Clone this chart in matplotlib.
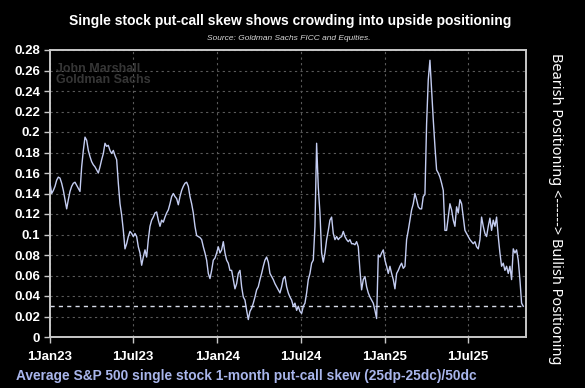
import numpy as np
import pandas as pd
import matplotlib
matplotlib.use("Agg")
from matplotlib import pyplot as plt

# Average S&P 500 single stock 1-month put-call skew
# (roughly every 3-4 days, Jan 2023 -> end Oct 2025)
skew_2023_24 = [
    0.150, 0.140, 0.143, 0.147, 0.153, 0.156, 0.155, 0.150, 0.143, 0.134,
    0.125, 0.134, 0.142, 0.147, 0.150, 0.151, 0.148, 0.145, 0.142, 0.166,
    0.182, 0.195, 0.192, 0.182, 0.176, 0.171, 0.168, 0.166, 0.163, 0.160,
    0.166, 0.173, 0.179, 0.189, 0.186, 0.187, 0.182, 0.179, 0.182, 0.177,
    0.173, 0.150, 0.130, 0.119, 0.104, 0.086, 0.091, 0.098, 0.103, 0.101,
    0.098, 0.101, 0.098, 0.088, 0.082, 0.070, 0.078, 0.085, 0.078, 0.095,
    0.108, 0.114, 0.117, 0.121, 0.122, 0.114, 0.108, 0.114, 0.112, 0.117,
    0.121, 0.124, 0.130, 0.137, 0.140, 0.137, 0.135, 0.129, 0.137, 0.143,
    0.147, 0.150, 0.151, 0.147, 0.137, 0.130, 0.121, 0.108, 0.099, 0.098,
    0.097, 0.095, 0.088, 0.082, 0.075, 0.062, 0.057, 0.065, 0.075, 0.077,
    0.082, 0.088, 0.082, 0.085, 0.093, 0.082, 0.075, 0.072, 0.065, 0.065,
    0.056, 0.047, 0.052, 0.062, 0.065, 0.049, 0.039, 0.036, 0.026, 0.017,
    0.025, 0.028, 0.033, 0.039, 0.046, 0.049, 0.056, 0.062, 0.069, 0.075,
    0.078, 0.073, 0.062, 0.059, 0.056, 0.052, 0.049, 0.046,
]
skew_2024_25 = [
    0.043, 0.049, 0.057, 0.059, 0.049, 0.043, 0.039, 0.036, 0.030, 0.033,
    0.026, 0.030, 0.025, 0.023, 0.030, 0.033, 0.043, 0.056, 0.062, 0.072,
    0.075, 0.108, 0.189, 0.146, 0.121, 0.082, 0.073, 0.082, 0.095, 0.104,
    0.114, 0.117, 0.101, 0.095, 0.098, 0.095, 0.097, 0.098, 0.103, 0.098,
    0.095, 0.093, 0.095, 0.091, 0.091, 0.090, 0.093, 0.088, 0.065, 0.046,
    0.056, 0.059, 0.049, 0.043, 0.039, 0.036, 0.033, 0.026, 0.018, 0.080,
    0.078, 0.082, 0.085, 0.075, 0.069, 0.062, 0.069, 0.062, 0.056, 0.047,
    0.062, 0.065, 0.069, 0.072, 0.067, 0.069, 0.095, 0.104, 0.114, 0.124,
    0.130, 0.140, 0.134, 0.127, 0.125, 0.125, 0.137, 0.139, 0.208, 0.251,
    0.270, 0.241, 0.212, 0.186, 0.163, 0.160, 0.156, 0.150, 0.143, 0.104,
    0.104, 0.117, 0.130, 0.124, 0.114, 0.108, 0.127, 0.121, 0.134, 0.130,
    0.117, 0.104, 0.101, 0.098, 0.095, 0.093, 0.091, 0.093, 0.088, 0.086,
    0.095, 0.117, 0.108, 0.101, 0.098, 0.108, 0.116, 0.104, 0.114, 0.108,
    0.117, 0.098, 0.082, 0.069, 0.072, 0.065, 0.069, 0.062, 0.069, 0.056,
    0.086, 0.082, 0.085, 0.075, 0.056, 0.033, 0.030,
]
skew = np.array(skew_2023_24 + skew_2024_25)
first_day, last_day = "2023-01-01", "2025-10-30"
dates = pd.date_range(first_day, last_day, periods=len(skew))

ref_level = 0.03  # dashed reference line
tick_dates = ["2023-01-01", "2023-07-01", "2024-01-01", "2024-07-01", "2025-01-01", "2025-07-01"]
tick_labels = ["1Jan23", "1Jul23", "1Jan24", "1Jul24", "1Jan25", "1Jul25"]
y_ticks = np.round(np.arange(0, 0.281, 0.02), 2)
y_labels = ["0", "0.02", "0.04", "0.06", "0.08", "0.1", "0.12", "0.14", "0.16",
            "0.18", "0.2", "0.22", "0.24", "0.26", "0.28"]

plt.rcParams["font.family"] = ["Liberation Sans", "DejaVu Sans"]

fig = plt.figure(figsize=(5.85, 3.88), dpi=100, facecolor="black")
ax = fig.add_axes([50 / 585, 1 - 337 / 388, 476 / 585, 287 / 388], facecolor="black")

ax.plot(dates, skew, color="#c4cdf2", lw=1.0, zorder=3)
ax.axhline(ref_level, color="#d8dcea", lw=1.0, ls=(0, (3, 3)), zorder=2)

ax.set_ylim(0, 0.28)
ax.set_xlim(pd.Timestamp("2023-01-01"), pd.Timestamp("2025-11-05"))
ax.set_yticks(y_ticks)
ax.set_yticklabels(y_labels)
ax.set_xticks(pd.to_datetime(tick_dates))
ax.set_xticklabels(tick_labels)

ax.grid(True, color="#5a5a5a", lw=0.8, ls=(0, (2, 3)))
for s in ax.spines.values():
    s.set_color("#c8c8c8")
    s.set_linewidth(1.4)
ax.tick_params(colors="#c8c8c8", length=4, width=1, direction="out")
ax.tick_params(axis="x", pad=6)
ax.tick_params(axis="y", pad=3)
for lab in ax.get_xticklabels() + ax.get_yticklabels():
    lab.set_color("white")
    lab.set_fontweight("bold")
    lab.set_fontsize(9.5)

ax.text(0.012, 0.955, "John Marshall\nGoldman Sachs", transform=ax.transAxes,
        color="#363636", fontsize=9, fontweight="bold", va="top", ha="left",
        linespacing=0.9)

fig.text(0.496, 1 - 21 / 388, "Single stock put-call skew shows crowding into upside positioning",
         color="white", fontsize=10, fontweight="bold", ha="center", va="center")
fig.text(0.494, 1 - 39 / 388, "Source: Goldman Sachs FICC and Equities.",
         color="#d8d8d8", fontsize=6, style="italic", ha="center", va="center")
fig.text(16 / 585, 1 - 376 / 388,
         "Average S&P 500 single stock 1-month put-call skew (25dp-25dc)/50dc",
         color="#a9b6ec", fontsize=9.9, fontweight="bold", ha="left", va="center")
fig.text(555 / 585, 1 - 53 / 388,
         "Bearish Positioning <------> Bullish Positioning",
         color="white", fontsize=10.5, fontweight="bold", rotation=-90,
         ha="center", va="top", family=["Noto Sans", "DejaVu Sans"])

fig.savefig("out.png", dpi=100, facecolor="black")
